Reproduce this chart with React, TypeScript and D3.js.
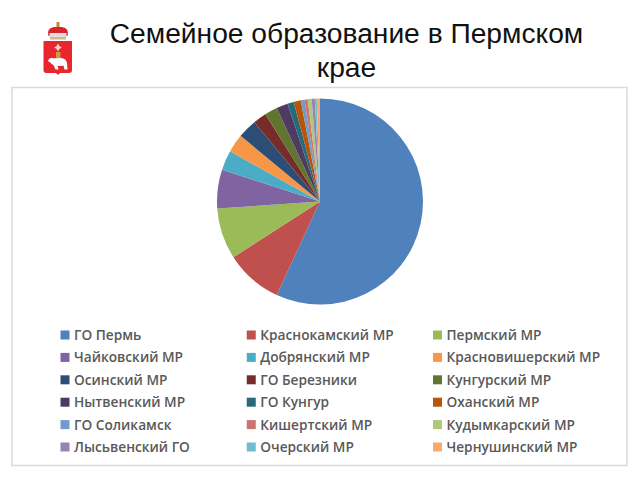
import * as d3 from 'd3';

const titleLines = ['Семейное образование в Пермском', 'крае'];

const categories = [
	'ГО Пермь',
	'Краснокамский МР',
	'Пермский МР',
	'Чайковский МР',
	'Добрянский МР',
	'Красновишерский МР',
	'Осинский МР',
	'ГО Березники',
	'Кунгурский МР',
	'Нытвенский МР',
	'ГО Кунгур',
	'Оханский МР',
	'ГО Соликамск',
	'Кишертский МР',
	'Кудымкарский МР',
	'Лысьвенский ГО',
	'Очерский МР',
	'Чернушинский МР',
];

const shares = [
	56.9, 9, 8, 6.1, 3.1, 2.9, 3, 2.1, 2, 1.8, 1, 1.1, 0.6, 0.5, 0.6, 0.5, 0.3, 0.5,
];

const colors = [
	'#4f81bd', '#c0504d', '#9bbb59', '#8064a2', '#4bacc6', '#f79646',
	'#2c4d75', '#772c2a', '#5f7530', '#4d3b62', '#276a7c', '#b65708',
	'#729aca', '#cd7371', '#afc97a', '#9983b5', '#6fbdd1', '#f9ab6b',
];

const legendCols = [0, 1, 2];
const legendRows = [0, 1, 2, 3, 4, 5];

const width = 640,
	height = 480;
const cx = 320,
	cy = 201.5,
	radius = 103;

const colX = d3.scaleLinear().domain([0, 2]).range([60.5, 433]);
const rowY = d3.scaleLinear().domain([0, 5]).range([335, 447]);

const slices = d3
	.pie<number>()
	.sort(null)
	.value((d) => d)(shares);
const arc = d3
	.arc<d3.PieArcDatum<number>>()
	.innerRadius(0)
	.outerRadius(radius);

function Emblem() {
	return (
		<g>
			{/* crown */}
			<rect x={56.5} y={22} width={3} height={5} fill="#b98a3c" />
			<path d="M48.5 36 C46.5 28 52 26.5 58 27 C64 26.5 69.5 28 67.5 36 Z" fill="#d8232a" />
			<rect x={49.5} y={33} width={17} height={4} fill="#e6dcdc" />
			<rect x={50} y={37} width={16} height={2.5} fill="#cdb98a" />
			{/* shield */}
			<path
				d="M43.5 41 H72 V70 Q72 73 69 73 H60 L58 75 L56 73 H46.5 Q43.5 73 43.5 70 Z"
				fill="#e8262d"
			/>
			<path d="M58 43.5 l1.4 2.6 l2.4 1.4 l-2.4 1.4 l-1.4 2.6 l-1.4 -2.6 l-2.4 -1.4 l2.4 -1.4 Z" fill="#f6d5d5" />
			<rect x={56} y={52} width={4.5} height={6.5} fill="#c99a3f" />
			{/* bear */}
			<path
				d="M48 60.5 Q49 57.5 52 58 Q56 58.5 60 58 Q66 58 67 63 L67.5 69.5 H64.5 L63.5 65.5 Q60 66.5 57.5 65.5 L58.5 69.5 H55.5 L53.5 65 Q51 64 50.5 62.5 Q48.5 62.5 48 60.5 Z"
				fill="#fff"
			/>
		</g>
	);
}

export default function App() {
	return (
		<svg
			width={width}
			height={height}
			viewBox={`0 0 ${width} ${height}`}
			style={{ position: 'absolute', left: 0, top: 0, background: '#fff' }}
		>
			<Emblem />
			{titleLines.map((line, i) => (
				<text
					key={line}
					x={346.5}
					y={43 + i * 33.5}
					textAnchor="middle"
					fontFamily="Liberation Sans, Arial, sans-serif"
					fontSize={28.2}
					fill="#111"
				>
					{line}
				</text>
			))}
			<rect
				x={12}
				y={87.5}
				width={615}
				height={378}
				fill="#fff"
				stroke="#d9d9d9"
				strokeWidth={1.5}
			/>
			<g transform={`translate(${cx}, ${cy})`}>
				{slices.map((s, i) => (
					<path key={categories[i]} d={arc(s)!} fill={colors[i]} />
				))}
			</g>
			{legendRows.map((r) =>
				legendCols.map((c) => {
					const i = r * legendCols.length + c;
					return (
						<g key={categories[i]} transform={`translate(${colX(c)}, ${rowY(r)})`}>
							<rect x={0} y={-4.5} width={9} height={9} fill={colors[i]} />
							<text
								x={13.5}
								y={5}
								fontFamily="Open Sans, sans-serif"
								fontWeight={600}
								fontSize={13.7}
								fill="#595959"
							>
								{categories[i]}
							</text>
						</g>
					);
				})
			)}
		</svg>
	);
}
